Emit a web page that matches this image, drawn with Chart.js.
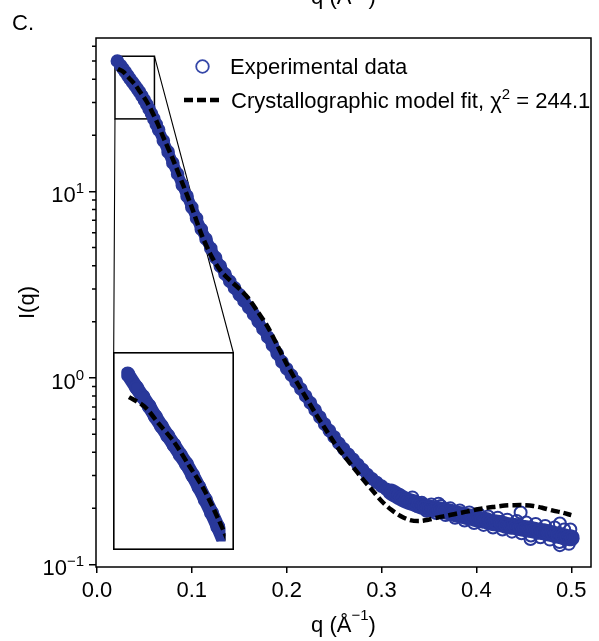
<!DOCTYPE html>
<html><head><meta charset="utf-8">
<script src="https://cdn.jsdelivr.net/npm/chart.js@4.4.1/dist/chart.umd.min.js"></script>
<style>
html,body{margin:0;padding:0;background:#fff;}
#wrap{position:relative;width:599px;height:641px;overflow:hidden;}
#main{position:absolute;left:0;top:0;}
#inset{position:absolute;left:113px;top:352px;}
</style></head><body>
<div id="wrap"><canvas id="main" width="599" height="641"></canvas><canvas id="inset" width="121" height="198"></canvas></div>
<script>
// ---------- data ----------
const expQ = [0.0215,0.025,0.0275,0.030,0.0325,0.035,0.0375,0.040,0.0425,0.045,0.0475,0.050,0.0525,0.055,0.0575,0.060,0.0625,0.065,
0.070,0.075,0.080,0.085,0.090,0.095,0.100,0.105,0.110,0.115,0.120,0.125,0.130,0.135,0.140,0.145,0.150,0.155,0.160,0.165,0.170,0.175,
0.180,0.185,0.190,0.195,0.200,0.205,0.210,0.215,0.220,0.225,0.230,0.235,0.240,0.245,0.250,0.255,0.260,0.265,0.270,0.275,0.280,0.285,
0.290,0.295,0.300,0.305,0.310,0.315,0.320,0.325,0.330,0.335,0.340,0.345,0.350,0.355,0.360,0.365,0.370,0.375,0.380,0.385,0.390,0.395,
0.400,0.405,0.410,0.415,0.420,0.425,0.430,0.435,0.440,0.445,0.450,0.455,0.460,0.465,0.470,0.475,0.480,0.485,0.490,0.495,0.500];
const expI = [50.1,47.3,45.5,43.7,41.8,40.1,38.5,37.0,35.5,34.1,32.5,30.9,29.3,27.7,26.1,24.5,22.9,21.4,
18.7,16.3,14.2,12.4,10.8,9.44,8.22,7.18,6.27,5.56,4.95,4.42,3.98,3.61,3.30,3.04,2.80,2.59,2.39,2.20,2.01,1.83,
1.66,1.50,1.35,1.22,1.12,1.035,0.953,0.873,0.800,0.735,0.673,0.617,0.566,0.522,0.483,0.447,0.417,0.390,0.366,0.343,0.323,0.304,
0.288,0.275,0.263,0.253,0.245,0.237,0.229,0.222,0.217,0.213,0.208,0.204,0.201,0.199,0.197,0.195,0.192,0.189,0.186,0.184,0.181,0.179,
0.176,0.174,0.172,0.169,0.167,0.166,0.163,0.161,0.160,0.158,0.156,0.155,0.153,0.151,0.150,0.148,0.146,0.144,0.142,0.140,0.139];
// scattered experimental points at high q
const noiseQ = [0.3325,0.3375,0.3425,0.3475,0.3525,0.3575,0.3625,0.3675,0.3725,0.3775,0.3825,0.3875,0.3925,0.3975,0.4025,0.4075,
0.4125,0.4175,0.4225,0.4275,0.4325,0.4375,0.4425,0.4475,0.4525,0.4575,0.4625,0.4675,0.4725,0.4775,0.4825,0.4875,0.4925,0.4975,
0.360,0.4466,0.457,0.488,0.499,0.488];
const noiseI = [0.229,0.206,0.214,0.194,0.210,0.189,0.206,0.184,0.200,0.178,0.195,0.172,0.190,0.167,0.186,0.163,
0.181,0.158,0.178,0.154,0.174,0.150,0.171,0.147,0.168,0.143,0.165,0.140,0.161,0.136,0.158,0.132,0.154,0.129,
0.212,0.190,0.137,0.166,0.154,0.127];
const fitQ = [0.022,0.028,0.034,0.040,0.046,0.052,0.058,0.064,0.070,0.080,0.090,0.100,0.110,0.120,0.130,0.140,0.150,0.160,0.170,0.180,
0.190,0.200,0.210,0.220,0.230,0.240,0.250,0.260,0.270,0.280,0.290,0.300,0.310,0.320,0.330,0.340,0.350,0.360,0.370,0.380,0.390,0.400,
0.410,0.420,0.430,0.440,0.450,0.460,0.470,0.480,0.490,0.500];
const fitI = [45.4,43.7,40.5,37.5,33.9,30.6,26.8,23.1,19.5,14.9,11.1,8.22,5.92,4.57,3.78,3.35,3.01,2.66,2.25,1.88,
1.50,1.19,0.964,0.791,0.650,0.541,0.451,0.385,0.333,0.288,0.251,0.219,0.197,0.182,0.173,0.171,0.174,0.179,0.183,0.188,0.192,0.197,
0.201,0.204,0.207,0.208,0.208,0.206,0.201,0.195,0.190,0.184];
const xTicks = [0.0,0.1,0.2,0.3,0.4,0.5];
const yTicks = [0.1,1,10];
const yTickExp = ['\u22121','0','1'];
const yMinor = [0.2,0.3,0.4,0.5,0.6,0.7,0.8,0.9,2,3,4,5,6,7,8,9,20,30,40,50,60];
const zoomQ = [0.0190,0.0606];
const zoomI = [24.5,53.1];
const legendLabels = ['Experimental data','Crystallographic model fit, \u03c7','2',' = 244.1'];
const panelLabel = 'C.';

// ---------- styling ----------
const FONT = "'Liberation Sans', Arial, Helvetica, sans-serif";
const BLUE = '#29389a';
const BLUE_L = '#3547a8';
const pts = (qs, is) => qs.map((q,i)=>({x:q,y:is[i]}));

function supText(ctx, parts, x, y, align){
  let w = 0;
  const m = parts.map(p=>{ctx.font = p.s+'px '+FONT; const pw = ctx.measureText(p.t).width; w += pw; return pw;});
  let cx = align==='right' ? x-w : align==='center' ? x-w/2 : x;
  ctx.textAlign='left'; ctx.textBaseline='alphabetic';
  parts.forEach((p,i)=>{ctx.font = p.s+'px '+FONT; ctx.fillText(p.t, cx, y-(p.r||0)); cx += m[i];});
}

const mainDecor = {
  id:'mainDecor',
  beforeDatasetsDraw(chart){
    const {ctx, scales:{x,y}} = chart;
    ctx.save();
    ctx.strokeStyle='#000'; ctx.lineWidth=1.5;
    const l = x.getPixelForValue(zoomQ[0]), r = x.getPixelForValue(zoomQ[1]);
    const t = y.getPixelForValue(zoomI[1]), b = y.getPixelForValue(zoomI[0]);
    ctx.strokeRect(l,t,r-l,b-t);
    ctx.lineWidth=1.1;
    ctx.beginPath();
    ctx.moveTo(l,b); ctx.lineTo(113.7,352.5);
    ctx.moveTo(r,t); ctx.lineTo(233.3,352.5);
    ctx.stroke();
    ctx.restore();
  },
  afterDraw(chart){
    const {ctx, chartArea:a, scales:{x,y}} = chart;
    ctx.save();
    ctx.strokeStyle='#000'; ctx.fillStyle='#000'; ctx.lineWidth=1.5;
    ctx.strokeRect(a.left,a.top,a.right-a.left,a.bottom-a.top);
    ctx.beginPath();
    yMinor.forEach(v=>{const py=y.getPixelForValue(v); if(py>a.top&&py<a.bottom){ctx.moveTo(a.left-4,py);ctx.lineTo(a.left,py);}});
    ctx.stroke();
    yTicks.forEach((v,i)=>{
      const py = y.getPixelForValue(v);
      supText(ctx,[{t:'10',s:22},{t:yTickExp[i],s:15,r:9}], 84, py+11, 'right');
    });
    supText(ctx,[{t:'q (\u00c5',s:22},{t:'\u22121',s:15,r:12},{t:')',s:22}], (a.left+a.right)/2, 632, 'center');
    supText(ctx,[{t:'q (\u00c5',s:22},{t:'\u22121',s:15,r:12},{t:')',s:22}], (a.left+a.right)/2, 4, 'center');
    ctx.save();
    ctx.translate(28,(a.top+a.bottom)/2); ctx.rotate(-Math.PI/2);
    ctx.font='22px '+FONT; ctx.textAlign='center'; ctx.textBaseline='middle';
    ctx.fillText('I(q)',0,0);
    ctx.restore();
    ctx.font='22px '+FONT; ctx.textAlign='left'; ctx.textBaseline='alphabetic';
    ctx.fillText(panelLabel,12,30);
    ctx.strokeStyle=BLUE_L; ctx.lineWidth=1.8;
    ctx.beginPath(); ctx.arc(202.5,66.5,6.3,0,Math.PI*2); ctx.stroke();
    supText(ctx,[{t:legendLabels[0],s:22}],230,74,'left');
    ctx.strokeStyle='#000'; ctx.lineWidth=4.5; ctx.setLineDash([9,4]);
    ctx.beginPath(); ctx.moveTo(184,100); ctx.lineTo(219,100); ctx.stroke();
    ctx.setLineDash([]);
    supText(ctx,[{t:legendLabels[1],s:22},{t:legendLabels[2],s:15,r:9},{t:legendLabels[3],s:22}],231,108,'left');
    ctx.restore();
  }
};

const fitDs = (w)=>({data:pts(fitQ,fitI), showLine:true, pointRadius:0, borderColor:'#000', borderWidth:w,
  borderDash:[9,4], tension:0.3, order:0});
const expDs = (lw,r,wide)=>({data:pts(expQ,expI), showLine:true, borderColor:BLUE, borderWidth:lw, tension:0.2,
  borderCapStyle:'round', borderJoinStyle:'round',
  segment:{borderWidth:c=>(wide && c.p0.parsed.x>=0.31) ? wide : undefined},
  pointRadius:r, pointBorderWidth:2, pointBorderColor:BLUE, pointBackgroundColor:'rgba(0,0,0,0)', order:1});
const noiseDs = {data:pts(noiseQ,noiseI), showLine:false, pointRadius:6, pointBorderWidth:2,
  pointBorderColor:BLUE, pointBackgroundColor:'rgba(0,0,0,0)', order:2};

new Chart(document.getElementById('main'),{
  type:'scatter',
  data:{datasets:[fitDs(4.5), expDs(11,5.8,17), noiseDs]},
  options:{
    responsive:false, animation:false, events:[],
    layout:{padding:{top:38,right:2,left:0,bottom:0}},
    plugins:{legend:{display:false},tooltip:{enabled:false}},
    scales:{
      x:{type:'linear',min:-0.001,max:0.5208,
        afterBuildTicks:s=>{s.ticks=xTicks.map(v=>({value:v}));},
        afterFit:s=>{s.height=74;},
        ticks:{callback:v=>Number(v).toFixed(1),font:{size:22,family:FONT},color:'#000',padding:5,maxRotation:0,autoSkip:false},
        grid:{drawOnChartArea:false,tickLength:6,color:'#000',lineWidth:1.5},
        border:{display:false}},
      y:{type:'logarithmic',min:0.09696,max:66.5,
        afterBuildTicks:s=>{s.ticks=yTicks.map(v=>({value:v}));},
        afterFit:s=>{s.width=96;},
        ticks:{callback:()=>'',autoSkip:false,font:{size:22,family:FONT}},
        grid:{drawOnChartArea:false,tickLength:7,color:'#000',lineWidth:1.5},
        border:{display:false}}
    }
  },
  plugins:[mainDecor]
});

const insetFrame = {id:'insetFrame', afterDraw(chart){const c=chart.ctx; c.save(); c.strokeStyle='#000'; c.lineWidth=1.6;
  c.strokeRect(0.8,0.8,chart.width-1.6,chart.height-1.6); c.restore();}};
new Chart(document.getElementById('inset'),{
  type:'scatter',
  data:{datasets:[fitDs(4.5), expDs(14,6.5,0)]},
  options:{
    responsive:false, animation:false, events:[],
    layout:{padding:0},
    plugins:{legend:{display:false},tooltip:{enabled:false}},
    scales:{
      x:{type:'linear',min:zoomQ[0],max:zoomQ[1],display:false},
      y:{type:'logarithmic',min:zoomI[0],max:zoomI[1],display:false}
    }
  },
  plugins:[insetFrame]
});
</script>
</body></html>
